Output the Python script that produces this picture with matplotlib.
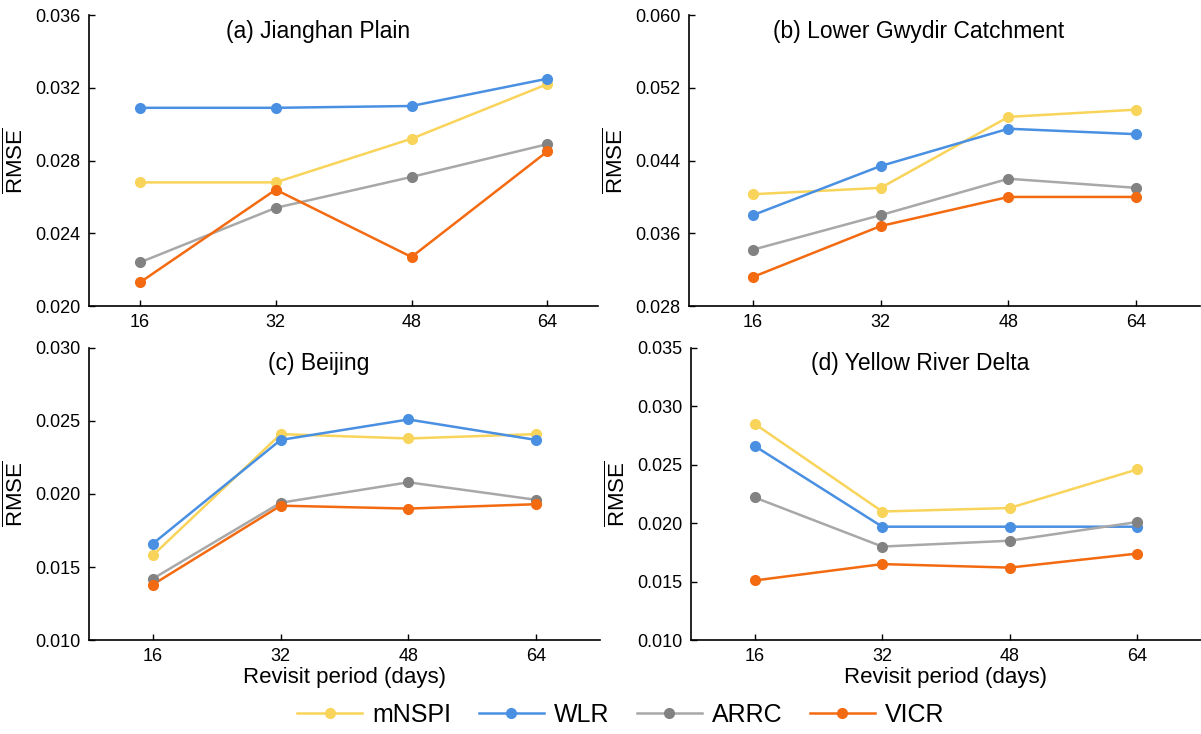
import numpy as np
import matplotlib
matplotlib.use("Agg")
import matplotlib.pyplot as plt
from matplotlib.lines import Line2D

plt.rcParams.update({
    "font.family": ["Liberation Sans", "DejaVu Sans"],
    "mathtext.fontset": "custom",
    "mathtext.rm": "Liberation Sans",
    "axes.linewidth": 1.2,
})

# revisit periods (days)
periods = [16, 32, 48, 64]
methods = ["mNSPI", "WLR", "ARRC", "VICR"]
line_colors = ["#F9D45A", "#4A90E2", "#A8A8A8", "#F36A10"]
marker_colors = ["#F9D45A", "#4A90E2", "#828282", "#F36A10"]

# mean RMSE per study area, one list per method
jianghan_mnspi = [0.0268, 0.0268, 0.0292, 0.0322]
jianghan_wlr = [0.0309, 0.0309, 0.0310, 0.0325]
jianghan_arrc = [0.0224, 0.0254, 0.0271, 0.0289]
jianghan_vicr = [0.0213, 0.0264, 0.0227, 0.0285]

gwydir_mnspi = [0.0403, 0.0410, 0.0488, 0.0496]
gwydir_wlr = [0.0380, 0.0434, 0.0475, 0.0469]
gwydir_arrc = [0.0342, 0.0380, 0.0420, 0.0410]
gwydir_vicr = [0.0312, 0.0368, 0.0400, 0.0400]

beijing_mnspi = [0.0158, 0.0241, 0.0238, 0.0241]
beijing_wlr = [0.0166, 0.0237, 0.0251, 0.0237]
beijing_arrc = [0.0142, 0.0194, 0.0208, 0.0196]
beijing_vicr = [0.0138, 0.0192, 0.0190, 0.0193]

yrd_mnspi = [0.0285, 0.0210, 0.0213, 0.0246]
yrd_wlr = [0.0266, 0.0197, 0.0197, 0.0197]
yrd_arrc = [0.0222, 0.0180, 0.0185, 0.0201]
yrd_vicr = [0.0151, 0.0165, 0.0162, 0.0174]

panels = [
    ("(a) Jianghan Plain", [jianghan_mnspi, jianghan_wlr, jianghan_arrc, jianghan_vicr],
     (0.020, 0.036), np.arange(0.020, 0.0361, 0.004), (10, 70)),
    ("(b) Lower Gwydir Catchment", [gwydir_mnspi, gwydir_wlr, gwydir_arrc, gwydir_vicr],
     (0.028, 0.060), np.arange(0.028, 0.0601, 0.008), (8, 72)),
    ("(c) Beijing", [beijing_mnspi, beijing_wlr, beijing_arrc, beijing_vicr],
     (0.010, 0.030), np.arange(0.010, 0.0301, 0.005), (8, 72)),
    ("(d) Yellow River Delta", [yrd_mnspi, yrd_wlr, yrd_arrc, yrd_vicr],
     (0.010, 0.035), np.arange(0.010, 0.0351, 0.005), (8, 72)),
]

# axes rectangles in figure fractions
rects = [
    [0.0741, 0.583, 0.424, 0.3965],
    [0.5737, 0.583, 0.4255, 0.3965],
    [0.0741, 0.128, 0.4255, 0.398],
    [0.5754, 0.128, 0.4245, 0.398],
]

fig = plt.figure(figsize=(12.01, 7.34), dpi=100)

for i, ((title, series, ylim, yticks, xlim), rect) in enumerate(zip(panels, rects)):
    ax = fig.add_axes(rect)
    for vals, lc, mc in zip(series, line_colors, marker_colors):
        ax.plot(periods, vals, "-", color=lc, lw=1.8, zorder=2)
        ax.plot(periods, vals, "o", color=mc, ms=7, zorder=3)
    ax.set_xlim(*xlim)
    ax.set_ylim(*ylim)
    ax.set_xticks(periods)
    ax.set_yticks(yticks)
    ax.set_yticklabels([f"{t:.3f}" for t in yticks])
    ax.tick_params(direction="in", length=4, width=1.0, labelsize=13, pad=6)
    ax.spines["top"].set_visible(False)
    ax.spines["right"].set_visible(False)
    ax.set_ylabel(r"$\overline{\mathrm{RMSE}}$", fontsize=16, labelpad=5)
    ax.text(0.45, 0.945, title, transform=ax.transAxes, ha="center", va="center",
            fontsize=16.5)
    if i >= 2:
        ax.set_xlabel("Revisit period (days)", fontsize=16, labelpad=1)

handles = [Line2D([0], [0], color=lc, lw=1.8, marker="o", ms=7,
                  markerfacecolor=mc, markeredgecolor=mc)
           for lc, mc in zip(line_colors, marker_colors)]
fig.legend(handles, methods, loc="center", bbox_to_anchor=(0.517, 0.026), ncol=4,
           frameon=False, fontsize=18, handlelength=2.6, columnspacing=1.1,
           handletextpad=0.4)

fig.savefig("out.png", dpi=100)
